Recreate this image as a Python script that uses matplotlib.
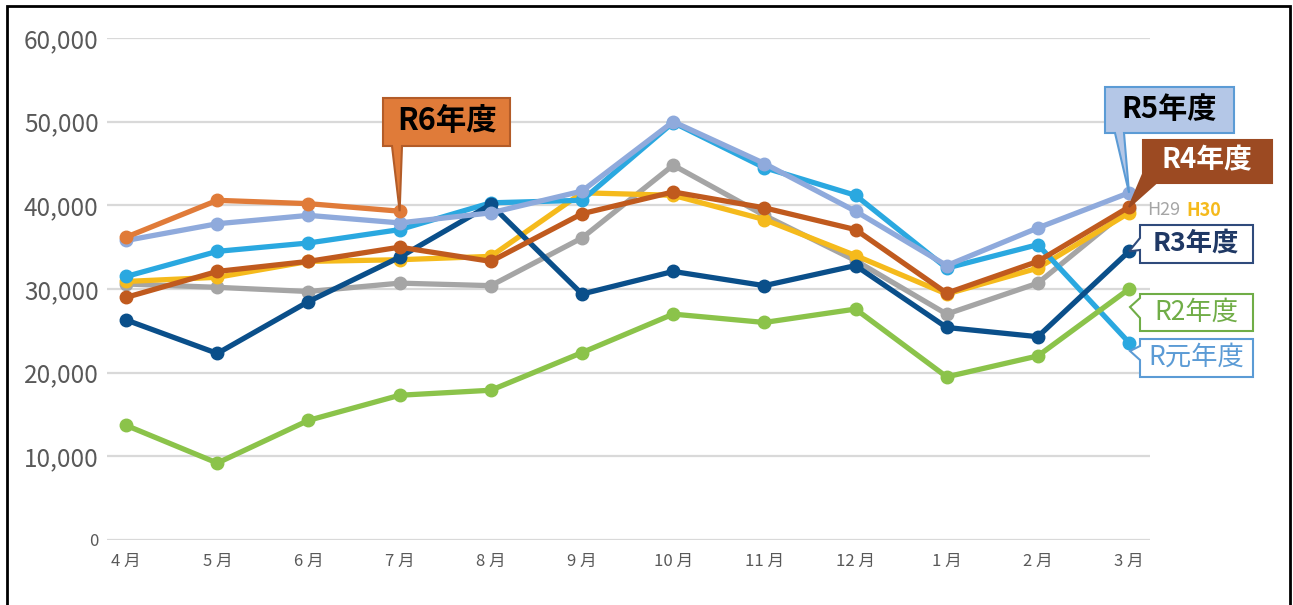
import matplotlib
matplotlib.use("Agg")
import matplotlib.pyplot as plt
from matplotlib.patches import Polygon, Rectangle

plt.rcParams["font.family"] = ["Noto Sans CJK JP", "DejaVu Sans"]

months = ["4 月", "5 月", "6 月", "7 月", "8 月", "9 月", "10 月", "11 月", "12 月", "1 月", "2 月", "3 月"]
h29 = [30600, 30200, 29700, 30700, 30400, 36100, 44800, 38800, 33400, 27000, 30700, 39600]
h30 = [30900, 31400, 33300, 33500, 33900, 41500, 41200, 38300, 34000, 29400, 32500, 39100]
r1 = [31500, 34500, 35500, 37100, 40300, 40600, 49900, 44500, 41200, 32500, 35300, 23600]
r2 = [13700, 9200, 14300, 17300, 17900, 22400, 27000, 26000, 27600, 19500, 22000, 30000]
r3 = [26300, 22300, 28500, 33800, 40100, 29400, 32100, 30400, 32800, 25400, 24300, 34500]
r4 = [29000, 32100, 33300, 35000, 33300, 39000, 41600, 39700, 37100, 29500, 33300, 39800]
r5 = [35800, 37800, 38800, 37900, 39100, 41700, 50000, 45000, 39300, 32800, 37300, 41500]
r6 = [36200, 40600, 40200, 39300]

series = [
    (h29, "#A5A5A5"),
    (h30, "#F5BA1C"),
    (r1, "#2AA8E0"),
    (r2, "#8BC34A"),
    (r3, "#0A4F8A"),
    (r4, "#C05A1E"),
    (r5, "#8FAADC"),
    (r6, "#E07B39"),
]

W, H = 1293, 605
fig = plt.figure(figsize=(W / 100, H / 100), dpi=100)
ax = fig.add_axes([107 / W, 1 - 540 / H, (1150 - 107) / W, (540 - 38) / H])

x = list(range(len(months)))
for vals, c in series:
    ax.plot(x[:len(vals)], vals, color=c, lw=3.8, marker="o", ms=9, solid_capstyle="round", zorder=3)

ax.set_xlim(-0.21, 11.23)
ax.set_ylim(0, 60000)
ax.set_yticks(range(0, 60001, 10000))
ax.set_yticklabels([f"{v:,}" for v in range(0, 60001, 10000)], fontsize=17.5, color="#595959")
ax.get_yticklabels()[0].set_fontsize(12)
ax.set_xticks(x)
ax.set_xticklabels(months, fontsize=12, color="#595959")
ax.tick_params(axis="y", length=0, pad=6)
ax.tick_params(axis="x", length=0, pad=9)
ax.grid(axis="y", color="#D9D9D9", lw=1.6, zorder=0)
for s in ax.spines.values():
    s.set_visible(False)

fig.canvas.draw()


def tip(i, v):
    px, py = ax.transData.transform((i, v))
    return (px, H - py)


def callout(verts, fc, ec, text, tx, ty, color, weight, size):
    pts = [(a / W, 1 - b / H) for a, b in verts]
    fig.patches.append(Polygon(pts, closed=True, fc=fc, ec=ec, lw=1.5,
                               transform=fig.transFigure, zorder=10))
    fig.text(tx / W, 1 - ty / H, text, ha="center", va="center", color=color,
             fontweight=weight, fontsize=size, zorder=11)


callout([(383, 98), (510, 98), (510, 146), (402, 146), tip(3, r6[3]), (392, 146), (383, 146)],
        "#E07B39", "#B35C28", "R6年度", 447, 121, "black", "bold", 22)
callout([(1105, 87), (1234, 87), (1234, 133), (1124, 133), tip(11, r5[11]), (1115, 133), (1105, 133)],
        "#B4C7E7", "#5B9BD5", "R5年度", 1169, 109, "black", "bold", 21)
callout([(1143, 140), (1272, 140), (1272, 183), (1156, 183), tip(11, r4[11]), (1143, 174)],
        "#9C4A22", "#9C4A22", "R4年度", 1207, 160, "white", "bold", 20)
callout([(1140, 225), (1253, 225), (1253, 263), (1140, 263), (1140, 250), tip(11, r3[11]), (1140, 238)],
        "white", "#2F4B7C", "R3年度", 1196, 243, "#1F3864", "bold", 19)
callout([(1140, 294), (1253, 294), (1253, 331), (1140, 331), (1140, 318), (1130, 307), (1140, 298)],
        "white", "#70AD47", "R2年度", 1196, 312, "#70AD47", "normal", 19)
callout([(1140, 339), (1253, 339), (1253, 377), (1140, 377), (1140, 360), (1130, 351), (1140, 346)],
        "white", "#5B9BD5", "R元年度", 1196, 357, "#5B9BD5", "normal", 19)

fig.text(1147 / W, 1 - 210 / H, "H29", color="#A5A5A5", fontsize=13, ha="left", va="center")
fig.text(1186 / W, 1 - 210 / H, "H30", color="#F5BA1C", fontsize=13, fontweight="bold", ha="left", va="center")

fig.patches.append(Rectangle((7 / W, -0.05), (1290 - 7) / W, 1.05 - 6 / H, fill=False,
                             ec="black", lw=2, transform=fig.transFigure, zorder=20))

fig.savefig("out.png", dpi=100)
